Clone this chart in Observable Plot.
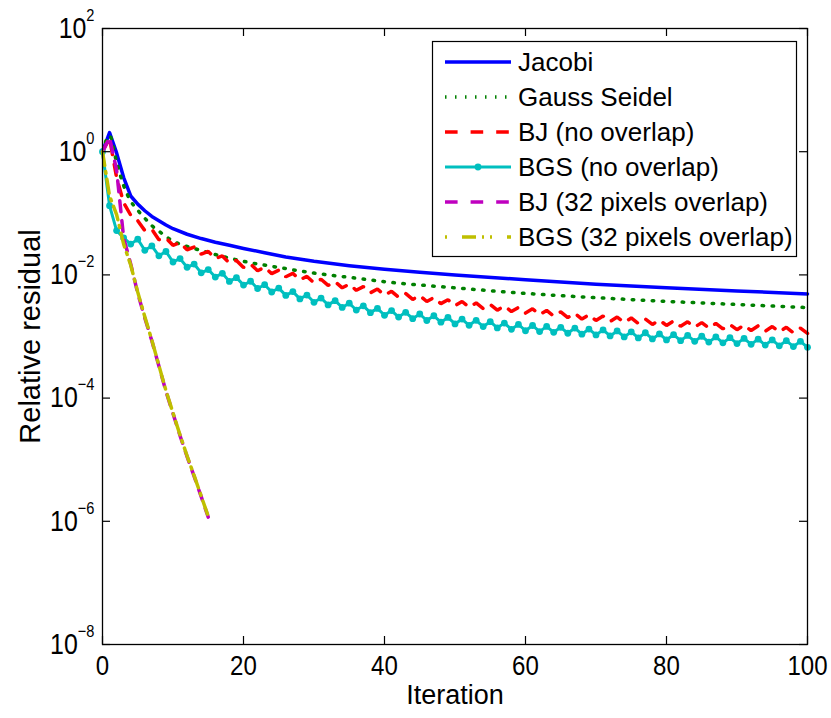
<!DOCTYPE html>
<html><head><meta charset="utf-8">
<script src="https://cdn.jsdelivr.net/npm/d3@7"></script>
<script src="https://cdn.jsdelivr.net/npm/@observablehq/plot@0.6"></script>
<style>html,body{margin:0;padding:0;background:#fff;}</style>
</head><body><div id="chart"></div>
<script>
// ---- data ----
const xTicks = [0, 20, 40, 60, 80, 100];
const yTicks = [1e-8, 1e-6, 1e-4, 1e-2, 1, 1e2];
const yTickExponents = ["−8", "−6", "−4", "−2", "0", "2"];

const seriesNames = ["Jacobi", "Gauss Seidel", "BJ (no overlap)", "BGS (no overlap)", "BJ (32 pixels overlap)", "BGS (32 pixels overlap)"];

const jacobiIter = [0,1,2,3,4,5,6,7,8,9,10,12,14,16,18,20,23,26,30,35,40,45,50,60,70,80,90,100];
const jacobiRes = [1,2.04,0.955,0.380,0.191,0.141,0.110,0.0891,0.0759,0.0646,0.0562,0.0457,0.0389,0.0339,0.0302,0.0269,0.0229,0.0195,0.0166,0.0141,0.0123,0.0110,0.0100,0.00832,0.00708,0.00617,0.00550,0.00490];

const gsIter = [0,1,2,3,4,5,6,7,8,10,13,16,20,25,30,35,40,50,60,70,80,90,100];
const gsRes = [1,1.82,0.676,0.282,0.158,0.112,0.0832,0.0631,0.0513,0.0355,0.0269,0.0214,0.0166,0.0132,0.0107,0.00912,0.00776,0.00617,0.00501,0.00427,0.00372,0.00331,0.00295];

// one value per iteration 0..100
const bjRes = [
 1, 1.66, 0.380, 0.148, 0.0933, 0.0759, 0.0525, 0.0550, 0.0372, 0.0398,
 0.0302, 0.0334, 0.0256, 0.0283, 0.0217, 0.0240, 0.0184, 0.0203, 0.0156, 0.0172,
 0.0132, 0.0150, 0.0117, 0.0133, 0.0105, 0.0119, 0.00933, 0.0106, 0.00832, 0.00944,
 0.00741, 0.00851, 0.00676, 0.00776, 0.00617, 0.00708, 0.00562, 0.00646, 0.00513, 0.00589,
 0.00468, 0.00541, 0.00433, 0.00500, 0.00400, 0.00462, 0.00370, 0.00428, 0.00342, 0.00395,
 0.00316, 0.00370, 0.00299, 0.00350, 0.00283, 0.00331, 0.00268, 0.00313, 0.00254, 0.00296,
 0.00240, 0.00281, 0.00227, 0.00265, 0.00215, 0.00251, 0.00203, 0.00238, 0.00192, 0.00225,
 0.00182, 0.00215, 0.00175, 0.00207, 0.00169, 0.00200, 0.00163, 0.00192, 0.00157, 0.00185,
 0.00151, 0.00179, 0.00147, 0.00173, 0.00142, 0.00168, 0.00137, 0.00163, 0.00133, 0.00157,
 0.00129, 0.00153, 0.00125, 0.00149, 0.00122, 0.00145, 0.00119, 0.00141, 0.00115, 0.00137,
 0.00112];

const bgsRes = [
 1, 0.133, 0.0525, 0.0398, 0.0316, 0.0380, 0.0251, 0.0295, 0.0204, 0.0240,
 0.0162, 0.0184, 0.0133, 0.0150, 0.0108, 0.0122, 0.00923, 0.0106, 0.00785, 0.00902,
 0.00684, 0.00789, 0.00601, 0.00693, 0.00528, 0.00610, 0.00465, 0.00536, 0.00408, 0.00471,
 0.00359, 0.00421, 0.00326, 0.00382, 0.00296, 0.00347, 0.00269, 0.00315, 0.00244, 0.00286,
 0.00221, 0.00264, 0.00207, 0.00247, 0.00195, 0.00232, 0.00182, 0.00217, 0.00171, 0.00204,
 0.00160, 0.00192, 0.00152, 0.00183, 0.00145, 0.00174, 0.00138, 0.00165, 0.00131, 0.00157,
 0.00124, 0.00151, 0.00120, 0.00146, 0.00117, 0.00141, 0.00113, 0.00137, 0.00109, 0.00132,
 0.00106, 0.00128, 0.00102, 0.00123, 0.000984, 0.00119, 0.000948, 0.00115, 0.000914, 0.00110,
 0.000881, 0.00107, 0.000857, 0.00104, 0.000834, 0.00101, 0.000811, 0.000984, 0.000789, 0.000957,
 0.000767, 0.000931, 0.000746, 0.000906, 0.000726, 0.000881, 0.000706, 0.000857, 0.000687, 0.000834,
 0.000668];

// iterations 0..15
const bj32Res = [1, 1.70, 0.501, 0.0398, 0.0151, 0.00501, 0.00200, 8.51e-4, 3.31e-4, 1.29e-4, 5.62e-5, 2.45e-5, 1.12e-5, 5.37e-6, 2.51e-6, 1.17e-6];
const bgs32Res = [1, 0.191, 0.0955, 0.0316, 0.0145, 0.00525, 0.00209, 8.71e-4, 3.39e-4, 1.32e-4, 5.75e-5, 2.51e-5, 1.15e-5, 5.50e-6, 2.57e-6, 1.20e-6];

// ---- layout / style ----
const W = 831, H = 718;
const mL = 102, mR = 24, mT = 28, mB = 74;
const innerH = H - mT - mB, innerW = W - mL - mR;
const tickLen = 8;
const FONT = "'Liberation Sans', Arial, Helvetica, sans-serif";
const C = {blue: "#0000ff", green: "#008000", red: "#ff0000", cyan: "#00bfbf", magenta: "#bf00bf", yellow: "#bfbf00"};

const byIndex = (d, i) => i;

const chart = Plot.plot({
  width: W, height: H,
  marginLeft: mL, marginRight: mR, marginTop: mT, marginBottom: mB,
  style: {fontFamily: FONT, fontSize: "26px", background: "#fff", color: "#000", overflow: "visible"},
  x: {domain: [0, 100], axis: null},
  y: {type: "log", domain: [1e-8, 1e2], axis: null},
  marks: [
    Plot.line(jacobiRes, {x: jacobiIter, y: jacobiRes, stroke: C.blue, strokeWidth: 3.5, strokeLinejoin: "round"}),
    Plot.line(gsRes, {x: gsIter, y: gsRes, stroke: C.green, strokeWidth: 3.5, strokeDasharray: "1.5,8.5", curve: "monotone-x"}),
    Plot.line(bjRes, {x: byIndex, y: d => d, stroke: C.red, strokeWidth: 3.5, strokeDasharray: "11,10", strokeLinejoin: "miter"}),
    Plot.line(bgsRes, {x: byIndex, y: d => d, stroke: C.cyan, strokeWidth: 3}),
    Plot.dot(bgsRes, {x: byIndex, y: d => d, fill: C.cyan, r: 3.4}),
    Plot.line(bj32Res, {x: byIndex, y: d => d, stroke: C.magenta, strokeWidth: 3.5, strokeDasharray: "11,9"}),
    Plot.line(bgs32Res, {x: byIndex, y: d => d, stroke: C.yellow, strokeWidth: 3.5, strokeDasharray: "14,6,2,6"}),
    Plot.frame({stroke: "#000", strokeWidth: 1.3}),
    Plot.tickX(xTicks, {x: d => d, insetTop: innerH - tickLen, stroke: "#000", strokeWidth: 1.2}),
    Plot.tickX(xTicks, {x: d => d, insetBottom: innerH - tickLen, stroke: "#000", strokeWidth: 1.2}),
    Plot.tickY(yTicks, {y: d => d, insetRight: innerW - tickLen, stroke: "#000", strokeWidth: 1.2}),
    Plot.tickY(yTicks, {y: d => d, insetLeft: innerW - tickLen, stroke: "#000", strokeWidth: 1.2}),
    Plot.axisX({ticks: xTicks, tickSize: 0, tickPadding: 11, label: null, anchor: "bottom", fontSize: 28}),
    Plot.axisY({ticks: yTicks, tickSize: 0, tickPadding: 8, label: null, anchor: "left", fontSize: 29,
      tickFormat: d => "10^" + yTickExponents[yTicks.indexOf(d)]}),
    Plot.text(["Iteration"], {frameAnchor: "bottom", dy: 59, text: d => d, fontSize: 27}),
    Plot.text(["Relative residual"], {frameAnchor: "left", dx: -72, rotate: -90, textAnchor: "middle", text: d => d, fontSize: 29})
  ]
});

// superscript exponents on y tick labels
d3.select(chart).selectAll('g[aria-label="y-axis tick label"] text').each(function () {
  const t = d3.select(this);
  const s = t.text();
  const m = s.match(/^10\^(.*)$/);
  if (!m) return;
  t.text("10");
  t.append("tspan").attr("dy", "-17px").attr("font-size", "17px").text(m[1]);
});
// slightly condensed tick labels, as in the reference
d3.select(chart).selectAll('g[aria-label="x-axis tick label"] text, g[aria-label="y-axis tick label"] text').each(function () {
  const t = d3.select(this);
  const tr = t.attr("transform");
  if (tr) t.attr("transform", tr + " scale(0.86,1)");
});

// legend
const svg = d3.select(chart);
const lg = svg.append("g").attr("font-family", FONT).attr("font-size", 26).attr("text-anchor", "start");
lg.append("rect").attr("x", 432.5).attr("y", 41.5).attr("width", 364).attr("height", 215)
  .attr("fill", "#fff").attr("stroke", "#000").attr("stroke-width", 1.2);
const legendStyles = [
  {color: C.blue, dash: null, width: 3.5},
  {color: C.green, dash: "1.5,8.5", width: 3.5},
  {color: C.red, dash: "12.6,13", width: 3.5},
  {color: C.cyan, dash: null, width: 3, marker: true},
  {color: C.magenta, dash: "12.6,13", width: 3.5},
  {color: C.yellow, dash: "2,15,14,6,2,6", width: 3.5}
];
seriesNames.forEach((name, k) => {
  const y = 62 + k * 35;
  const st = legendStyles[k];
  const ln = lg.append("line").attr("x1", 445).attr("x2", 511).attr("y1", y).attr("y2", y)
    .attr("stroke", st.color).attr("stroke-width", st.width);
  if (st.dash) ln.attr("stroke-dasharray", st.dash);
  if (st.marker) lg.append("circle").attr("cx", 478).attr("cy", y).attr("r", 3.4).attr("fill", st.color);
  lg.append("text").attr("x", 518).attr("y", y).attr("dy", "0.35em").attr("fill", "#000")
    .attr("text-anchor", "start").text(name);
});

document.getElementById("chart").appendChild(chart);
</script>
</body></html>
